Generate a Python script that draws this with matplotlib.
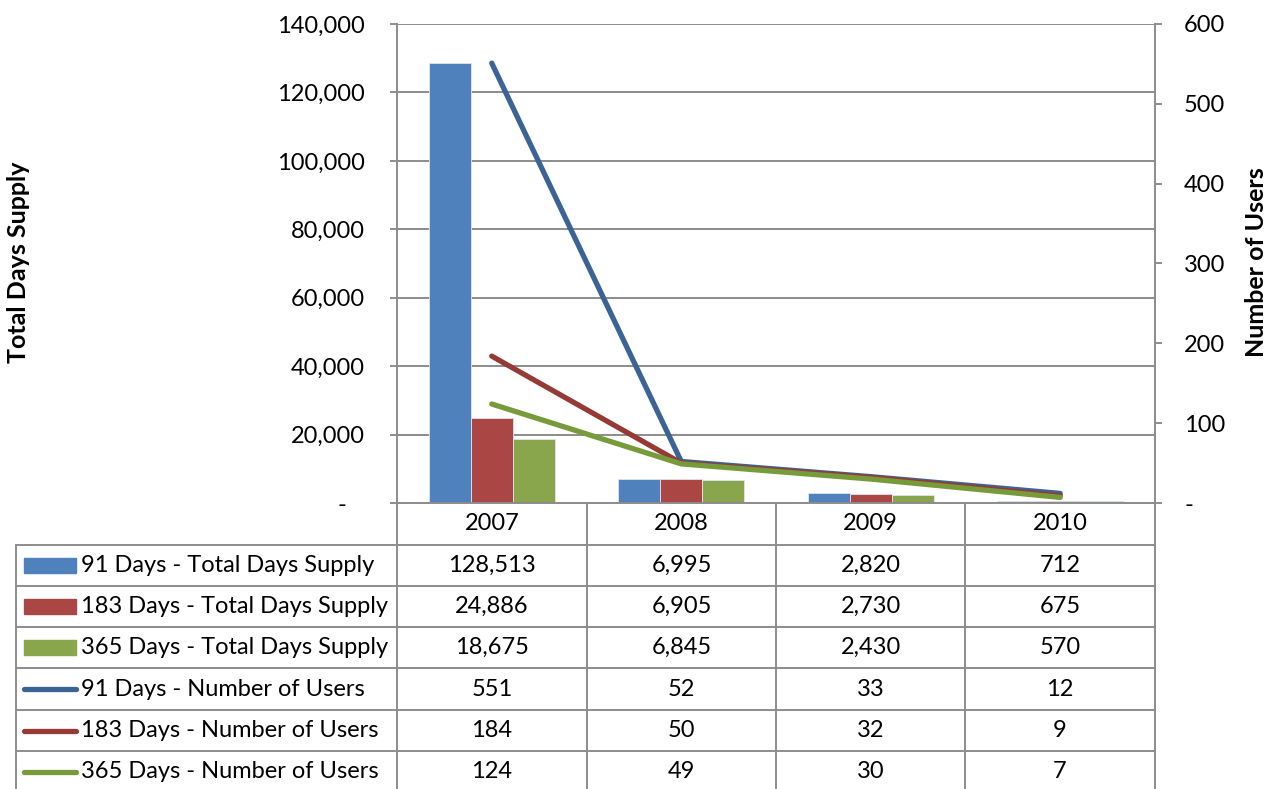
import matplotlib.pyplot as plt
import numpy as np

plt.rcParams['font.family'] = ['Lato', 'DejaVu Sans']

years = ['2007', '2008', '2009', '2010']
supply_91 = [128513, 6995, 2820, 712]
supply_183 = [24886, 6905, 2730, 675]
supply_365 = [18675, 6845, 2430, 570]
users_91 = [551, 52, 33, 12]
users_183 = [184, 50, 32, 9]
users_365 = [124, 49, 30, 7]

bar_names = ['91 Days - Total Days Supply', '183 Days - Total Days Supply', '365 Days - Total Days Supply']
line_names = ['91 Days - Number of Users', '183 Days - Number of Users', '365 Days - Number of Users']
bar_cols = ['#4F81BD', '#AA4643', '#8AA64C']
line_cols = ['#3B6396', '#963A36', '#779A3A']
grey = '#8C8C8C'
fs = 17

W, H = 1278, 789
fig = plt.figure(figsize=(W / 100, H / 100), dpi=100)

def box(x0, y0, x1, y1):
    # pixel box -> figure fraction
    return [x0 / W, 1 - y1 / H, (x1 - x0) / W, (y1 - y0) / H]

ax = fig.add_axes(box(397, 24, 1155, 503))
ax2 = ax.twinx()

x = np.arange(len(years))
bw = 0.222
for i, vals in enumerate([supply_91, supply_183, supply_365]):
    ax.bar(x + (i - 1) * bw, vals, bw, color=bar_cols[i], edgecolor='#DDE6F0', linewidth=0.6, zorder=2)

for i, vals in enumerate([users_91, users_183, users_365]):
    ax2.plot(x, vals, color=line_cols[i], lw=3.8, solid_capstyle='round')

ax.set_xlim(-0.5, 3.5)
ax.set_ylim(0, 140000)
ax2.set_ylim(0, 600)
ax.set_yticks(np.arange(0, 140001, 20000))
ax.set_yticklabels(['-   '] + [f'{v:,}' for v in range(20000, 140001, 20000)])
ax2.set_yticks(np.arange(0, 601, 100))
ax2.set_yticklabels(['-'] + [str(v) for v in range(100, 601, 100)])
ax.set_xticks([])
ax2.set_xticks([])

ax.yaxis.grid(True, color=grey, lw=1.4)
ax.set_axisbelow(True)
for a in (ax, ax2):
    a.spines['top'].set_visible(False)
    for s in a.spines.values():
        s.set_color(grey)
        s.set_linewidth(1.4)
ax.spines['right'].set_visible(False)
ax2.spines['left'].set_visible(False)
ax2.spines['bottom'].set_visible(False)
ax.tick_params(axis='y', direction='out', length=5, width=1.4, color=grey, labelsize=fs, pad=18)
ax2.tick_params(axis='y', direction='out', length=5, width=1.4, color=grey, labelsize=fs, pad=16)

fig.text(19 / W, 1 - 262 / H, 'Total Days Supply', rotation=90, fontsize=18, fontweight='bold',
         ha='center', va='center')
fig.text(1257 / W, 1 - 262 / H, 'Number of Users', rotation=90, fontsize=18, fontweight='bold',
         ha='center', va='center')

# data table under the chart
tab = fig.add_axes([0, 0, 1, 1])
tab.set_xlim(0, W)
tab.set_ylim(H, 0)
tab.axis('off')
tab.patch.set_alpha(0)

col_edges = [397, 587, 776, 965, 1155]
row_edges = [545, 586, 627, 668, 710, 751, 792]
for y in row_edges[:-1]:
    tab.plot([16, 1155], [y, y], color=grey, lw=1.4)
tab.plot([16, 16], [545, 789], color=grey, lw=1.4)
for cx in col_edges:
    tab.plot([cx, cx], [503, 789], color=grey, lw=1.4)

centers = [(col_edges[i] + col_edges[i + 1]) / 2 for i in range(4)]
for cx, yr in zip(centers, years):
    tab.text(cx, 523, yr, fontsize=fs, ha='center', va='center')

rows = [supply_91, supply_183, supply_365, users_91, users_183, users_365]
names = bar_names + line_names
for r, (vals, name) in enumerate(zip(rows, names)):
    cy = (row_edges[r] + row_edges[r + 1]) / 2
    if r < 3:
        tab.add_patch(plt.Rectangle((24, cy - 7.5), 52, 15, color=bar_cols[r]))
    else:
        tab.plot([24, 76], [cy, cy], color=line_cols[r - 3], lw=3.8, solid_capstyle='round')
    tab.text(81, cy, name, fontsize=fs, ha='left', va='center')
    for cx, v in zip(centers, vals):
        tab.text(cx, cy, f'{v:,}', fontsize=fs, ha='center', va='center')

plt.savefig('out.png', dpi=100)
